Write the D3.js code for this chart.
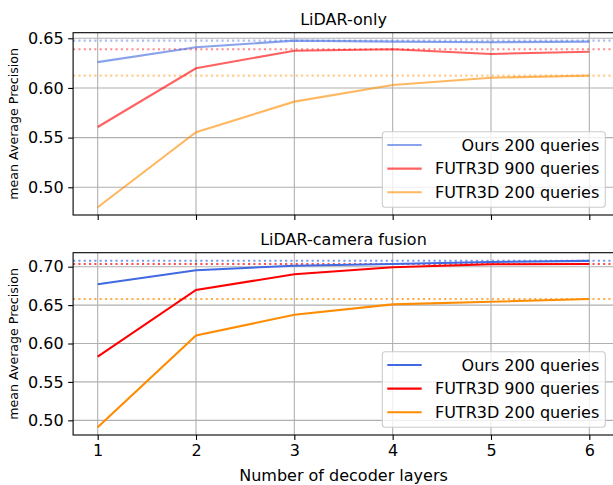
<!DOCTYPE html>
<html>
<head>
<meta charset="utf-8">
<script src="https://cdn.jsdelivr.net/npm/d3@7"></script>
<style>
  body { margin: 0; background: #fff; }
  svg { font-family: "DejaVu Sans", sans-serif; }
</style>
</head>
<body>
<div id="chart"></div>
<script>
// decoder layers on the x axis
const layers = [1, 2, 3, 4, 5, 6];
const seriesNames = ["Ours 200 queries", "FUTR3D 900 queries", "FUTR3D 200 queries"];

// LiDAR-only
const lidarOurs = [0.626, 0.641, 0.6476, 0.6466, 0.646, 0.6466];
const lidarFutr900 = [0.5607, 0.6198, 0.6375, 0.6389, 0.6342, 0.6365];
const lidarFutr200 = [0.4799, 0.5554, 0.5862, 0.603, 0.6103, 0.6124];
const lidarRefs = [0.6476, 0.6389, 0.6124];

// LiDAR-camera fusion
const fusionOurs = [0.6771, 0.6953, 0.7013, 0.7035, 0.7061, 0.7075];
const fusionFutr900 = [0.5828, 0.6697, 0.6901, 0.6992, 0.7031, 0.7035];
const fusionFutr200 = [0.4909, 0.6104, 0.6374, 0.6509, 0.6543, 0.6579];
const fusionRefs = [0.7078, 0.7035, 0.6579];

const yTicks = {
    top: [0.50, 0.55, 0.60, 0.65],
    bottom: [0.50, 0.55, 0.60, 0.65, 0.70]
};

const colors = ["#4169e1", "#ff0000", "#ff8c00"];

const W = 613, H = 485;
const svg = d3.select("#chart").append("svg")
    .attr("width", W)
    .attr("height", H);

const x = d3.scaleLinear().domain([0.75, 6.25]).range([73.1, 613.9]);

function drawPanel(opts) {
    let y = d3.scaleLinear().domain(opts.domain).range([opts.bottom, opts.top]);
    let g = svg.append("g");

    // grid
    g.selectAll(".vgrid").data(layers).enter().append("line")
        .attr("x1", d => x(d)).attr("x2", d => x(d))
        .attr("y1", opts.top).attr("y2", opts.bottom)
        .attr("stroke", "#b0b0b0").attr("stroke-width", 1.1);
    g.selectAll(".hgrid").data(opts.ticks).enter().append("line")
        .attr("x1", x.range()[0]).attr("x2", x.range()[1])
        .attr("y1", d => y(d)).attr("y2", d => y(d))
        .attr("stroke", "#b0b0b0").attr("stroke-width", 1.1);

    // reference dotted lines
    g.selectAll(".ref").data(opts.refs).enter().append("line")
        .attr("x1", x.range()[0]).attr("x2", x.range()[1])
        .attr("y1", d => y(d)).attr("y2", d => y(d))
        .attr("stroke", (d, i) => colors[i])
        .attr("stroke-opacity", opts.refAlpha)
        .attr("stroke-width", 2.1)
        .attr("stroke-dasharray", "2.1,3.2");

    // series lines
    let line = d3.line().x((d, i) => x(layers[i])).y(d => y(d));
    g.selectAll(".series").data(opts.series).enter().append("path")
        .attr("d", d => line(d))
        .attr("fill", "none")
        .attr("stroke", (d, i) => colors[i])
        .attr("stroke-opacity", opts.alpha)
        .attr("stroke-width", 2.1);

    // axes
    let yAxis = d3.axisLeft(y).tickValues(opts.ticks).tickFormat(d3.format(".2f")).tickSizeInner(4.9).tickSizeOuter(0).tickPadding(4.5);
    let ya = g.append("g").attr("transform", `translate(${x.range()[0]},0)`).call(yAxis);
    ya.select(".domain").remove();
    let xAxis = d3.axisBottom(x).tickValues(layers).tickFormat(d3.format("d")).tickSizeInner(4.9).tickSizeOuter(0).tickPadding(4.5);
    let xa = g.append("g").attr("transform", `translate(0,${opts.bottom})`).call(xAxis);
    xa.select(".domain").remove();
    if (!opts.showX) xa.selectAll("text").remove();
    g.selectAll(".tick line").attr("stroke", "#000").attr("stroke-width", 1.1);
    g.selectAll(".tick text").attr("font-size", 16).attr("fill", "#000")
        .attr("font-family", "DejaVu Sans");

    // frame
    g.append("rect")
        .attr("x", x.range()[0]).attr("y", opts.top)
        .attr("width", x.range()[1] - x.range()[0]).attr("height", opts.bottom - opts.top)
        .attr("fill", "none").attr("stroke", "#000").attr("stroke-width", 1.1);

    // title
    g.append("text")
        .attr("x", (x.range()[0] + x.range()[1]) / 2).attr("y", opts.top - 8)
        .attr("text-anchor", "middle").attr("font-size", 16)
        .text(opts.title);

    // y label
    g.append("text")
        .attr("transform", `translate(18,${(opts.top + opts.bottom) / 2}) rotate(-90)`)
        .attr("text-anchor", "middle").attr("font-size", 12.6)
        .text("mean Average Precision");

    // legend
    let lx = 382.3, ly = opts.bottom - 83.3, lw = 223, lh = 75.6;
    g.append("rect")
        .attr("x", lx).attr("y", ly).attr("width", lw).attr("height", lh)
        .attr("rx", 3).attr("fill", "#fff").attr("fill-opacity", 0.8)
        .attr("stroke", "#cccccc").attr("stroke-width", 1.1);
    let items = g.selectAll(".leg").data(seriesNames).enter().append("g")
        .attr("transform", (d, i) => `translate(0,${ly + 13.3 + i * 23.6})`);
    items.append("line")
        .attr("x1", lx + 5).attr("x2", lx + 39.4)
        .attr("stroke", (d, i) => colors[i])
        .attr("stroke-opacity", opts.alpha)
        .attr("stroke-width", 2.1);
    items.append("text")
        .attr("x", lx + lw - 6).attr("y", 5.7)
        .attr("text-anchor", "end").attr("font-size", 16)
        .text(d => d);
}

drawPanel({
    title: "LiDAR-only",
    top: 32.7, bottom: 215,
    domain: [0.4721, 0.6556],
    ticks: yTicks.top,
    series: [lidarOurs, lidarFutr900, lidarFutr200],
    refs: lidarRefs,
    alpha: 0.62, refAlpha: 0.45,
    showX: false
});

drawPanel({
    title: "LiDAR-camera fusion",
    top: 252.7, bottom: 435,
    domain: [0.4809, 0.7182],
    ticks: yTicks.bottom,
    series: [fusionOurs, fusionFutr900, fusionFutr200],
    refs: fusionRefs,
    alpha: 1, refAlpha: 0.7,
    showX: true
});

svg.append("text")
    .attr("x", x(3.5)).attr("y", 481)
    .attr("text-anchor", "middle").attr("font-size", 16)
    .text("Number of decoder layers");
</script>
</body>
</html>
